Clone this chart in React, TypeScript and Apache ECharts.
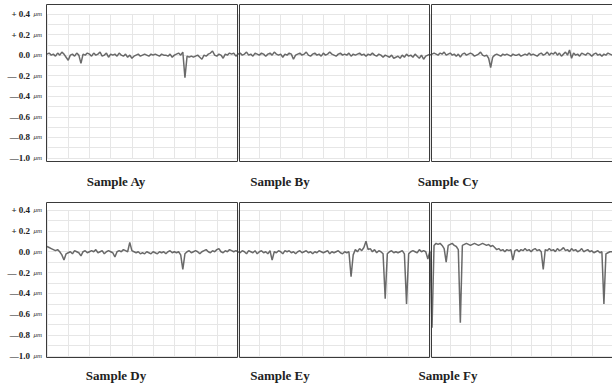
import React, { useEffect, useRef } from "react";
import * as echarts from "echarts";

const sampleNames = ["Sample Ay", "Sample By", "Sample Cy", "Sample Dy", "Sample Ey", "Sample Fy"];
const yTicks = [0.4, 0.2, 0.0, -0.2, -0.4, -0.6, -0.8, -1.0];

const sampleA = [
  0.01, 0.02, 0.00, 0.01, -0.01, 0.02, 0.00, 0.03, 0.01, -0.02,
  -0.05, 0.00, 0.01, -0.01, 0.02, 0.00, -0.08, 0.01, 0.00, 0.02,
  0.01, -0.01, 0.02, 0.00, 0.01, 0.03, -0.01, 0.00, 0.02, -0.02,
  0.01, 0.00, 0.01, -0.01, 0.02, 0.00, -0.01, 0.01, -0.02, 0.00,
  -0.03, -0.01, 0.00, 0.01, -0.01, 0.00, 0.01, 0.00, -0.01, 0.01,
  0.00, 0.01, 0.00, -0.01, 0.01, 0.00, 0.00, -0.01, 0.01, -0.02,
  0.00, 0.01, 0.02, 0.00, 0.03, -0.22, -0.01, -0.02, -0.01, -0.02,
  -0.01, 0.00, -0.02, -0.04, 0.00, -0.01, 0.01, 0.02, 0.04, 0.00,
  -0.01, 0.01, 0.00, -0.03, 0.01, 0.00, 0.02, 0.01, 0.02, -0.01,
  0.01,
];
const sampleB = [
  0.01, 0.02, 0.00, 0.01, 0.03, 0.00, 0.01, -0.01, 0.02, 0.01,
  0.00, 0.02, 0.01, -0.01, 0.01, 0.02, 0.00, 0.03, 0.01, 0.00,
  0.01, -0.02, 0.01, 0.00, 0.02, 0.01, -0.04, 0.00, 0.01, 0.02,
  0.00, 0.01, 0.03, 0.00, -0.01, 0.01, 0.02, 0.00, 0.01, -0.01,
  0.02, 0.00, 0.01, 0.03, 0.01, 0.00, -0.01, 0.01, 0.02, 0.00,
  0.01, 0.00, 0.02, -0.01, 0.01, 0.00, 0.01, 0.02, 0.00, 0.01,
  -0.01, 0.01, 0.00, 0.02, 0.00, -0.01, 0.01, 0.00, -0.02, 0.00,
  -0.01, -0.02, 0.00, -0.03, -0.02, -0.01, -0.03, 0.00, -0.02, 0.01,
  -0.01, 0.00, -0.02, 0.01, -0.01, -0.03, 0.00, -0.04, -0.01, 0.00,
  0.01,
];
const sampleC = [
  0.00, 0.01, 0.02, 0.01, 0.00, 0.02, 0.01, 0.03, 0.00, 0.01,
  0.02, 0.00, 0.01, -0.01, 0.01, -0.02, 0.01, 0.02, 0.00, 0.01,
  0.02, 0.01, -0.01, 0.00, 0.01, 0.03, 0.00, -0.01, 0.00, -0.03,
  -0.12, -0.02, 0.00, 0.01, 0.00, -0.01, 0.01, 0.00, 0.01, 0.00,
  -0.01, 0.01, 0.00, 0.00, 0.01, -0.01, 0.00, 0.01, 0.00, 0.02,
  0.00, 0.01, 0.00, -0.01, 0.01, 0.02, 0.00, 0.01, 0.03, 0.00,
  0.02, 0.01, 0.03, 0.00, 0.02, -0.01, 0.01, 0.03, 0.00, 0.05,
  -0.03, 0.02, 0.00, 0.01, -0.01, 0.02, 0.01, 0.00, 0.02, 0.01,
  -0.01, 0.01, 0.02, 0.00, 0.01, -0.01, 0.01, 0.00, 0.02, 0.01,
  0.00,
];
const sampleD = [
  0.05, 0.04, 0.03, 0.02, 0.01, 0.02, 0.00, -0.03, -0.08, -0.02,
  -0.01, 0.00, -0.02, 0.01, 0.00, -0.01, -0.04, 0.00, 0.01, -0.01,
  0.00, 0.01, 0.00, 0.02, -0.01, 0.00, 0.01, -0.02, 0.00, 0.01,
  0.00, -0.01, -0.05, 0.00, 0.01, 0.00, 0.02, 0.01, 0.00, 0.09,
  0.01, 0.00, -0.01, 0.00, -0.02, -0.01, -0.02, 0.00, -0.01, -0.02,
  0.00, -0.01, -0.02, 0.00, -0.01, 0.00, -0.02, 0.00, 0.01, -0.01,
  0.00, -0.01, 0.00, -0.03, -0.17, -0.02, 0.00, 0.01, -0.01, 0.00,
  0.01, 0.00, -0.02, 0.00, 0.01, 0.02, 0.00, -0.01, 0.01, 0.00,
  0.02, 0.03, 0.00, -0.01, 0.01, 0.00, 0.02, 0.01, 0.00, 0.01,
  0.00,
];
const sampleE = [
  0.00, -0.01, 0.01, 0.00, -0.02, 0.01, 0.00, -0.01, 0.01, -0.02,
  0.00, 0.01, -0.01, 0.00, -0.02, 0.01, -0.08, 0.00, -0.01, 0.01,
  0.00, -0.02, 0.01, 0.00, 0.01, -0.01, 0.00, -0.02, 0.00, 0.01,
  -0.01, 0.00, 0.01, -0.01, 0.00, -0.02, 0.00, -0.01, 0.01, 0.00,
  -0.01, 0.00, 0.01, -0.02, 0.00, -0.01, 0.00, 0.01, -0.01, -0.02,
  0.00, -0.01, 0.00, -0.24, -0.03, 0.02, 0.00, 0.03, 0.01, 0.04,
  0.10, 0.02, 0.03, 0.00, 0.02, -0.01, 0.01, 0.00, -0.02, -0.45,
  -0.02, 0.00, 0.01, -0.01, 0.00, -0.01, 0.00, 0.01, -0.02, -0.50,
  -0.02, 0.00, 0.01, 0.00, -0.01, 0.02, 0.00, 0.01, 0.00, -0.07,
  0.01,
];
const sampleF = [
  0.00, -0.73, 0.06, 0.08, 0.07, 0.08, 0.06, 0.03, -0.10, 0.06,
  0.07, 0.08, 0.06, 0.05, 0.02, -0.68, 0.06, 0.07, 0.08, 0.07,
  0.06, 0.07, 0.08, 0.07, 0.06, 0.07, 0.08, 0.07, 0.06, 0.07,
  0.05, 0.06, 0.04, 0.02, 0.03, 0.01, 0.02, 0.00, 0.02, 0.01,
  0.02, -0.08, 0.01, 0.02, 0.00, 0.02, 0.01, 0.03, 0.01, 0.02,
  0.00, 0.02, 0.03, 0.01, 0.02, 0.00, -0.17, 0.02, 0.01, 0.03,
  0.01, 0.02, 0.00, 0.03, 0.01, 0.02, 0.04, 0.01, 0.02, 0.00,
  0.03, 0.01, 0.02, 0.00, 0.01, 0.03, 0.00, 0.01, 0.02, 0.00,
  0.01, -0.01, 0.00, 0.01, -0.01, 0.00, -0.50, -0.02, -0.01, 0.00,
  0.00,
];

const allSamples = [sampleA, sampleB, sampleC, sampleD, sampleE, sampleF];

// layout (pixels)
const colLeft = [47, 238, 430];
const colWidth = [191, 192, 191];
const boxLeft = [46.5, 239.5, 431.5];
const boxWidth = [191, 190, 200];
const rowTop = [14, 210];
const rowHeight = [144, 146];
const boxTop = [4.5, 202.5];
const boxBottom = [161.5, 357.5];
const labelX = [116, 280, 448];
const labelY = [181, 375];

const FONT = "'Liberation Serif', 'Times New Roman', serif";

function fmtTick(v: number): string {
  const r = Math.round(v * 10) / 10;
  if (Math.abs(Math.round(r * 10)) % 2 !== 0) return "";
  const abs = Math.abs(r).toFixed(1);
  if (r > 0) return "{n|+ " + abs + "} {u|\u03bcm}";
  if (r === 0) return "{n|0.0} {u|\u03bcm}";
  if (Math.abs(r + 0.2) < 1e-6) return "{n|\u2014 " + abs + "} {u|\u03bcm}";
  return "{n|\u2014" + abs + "} {u|\u03bcm}";
}

export default function App() {
  const ref = useRef<HTMLDivElement>(null);
  useEffect(() => {
    if (!ref.current) return;
    const chart = echarts.init(ref.current, null, { renderer: "svg" });
    const grids: any[] = [];
    const xAxes: any[] = [];
    const yAxes: any[] = [];
    const series: any[] = [];
    const graphics: any[] = [];
    allSamples.forEach((arr, k) => {
      const r = Math.floor(k / 3);
      const c = k % 3;
      grids.push({
        left: colLeft[c],
        top: rowTop[r],
        width: colWidth[c],
        height: rowHeight[r],
        show: false,
      });
      xAxes.push({
        type: "value",
        gridIndex: k,
        min: 0,
        max: arr.length - 1,
        interval: 10,
        axisLine: { show: false },
        axisTick: { show: false },
        axisLabel: { show: false },
        splitLine: { show: true, lineStyle: { color: "#e6e6e6", width: 1 } },
      });
      yAxes.push({
        type: "value",
        gridIndex: k,
        min: -1.0,
        max: 0.4,
        interval: 0.1,
        axisLine: { show: false },
        axisTick: { show: false },
        axisLabel: {
          show: c === 0,
          margin: 5,
          formatter: fmtTick,
          rich: {
            n: { fontFamily: FONT, fontWeight: "bold", fontSize: 9, color: "#222" },
            u: { fontFamily: FONT, fontStyle: "italic", fontSize: 7, color: "#333" },
          },
        },
        splitLine: { show: true, lineStyle: { color: "#e6e6e6", width: 1 } },
      });
      series.push({
        type: "line",
        xAxisIndex: k,
        yAxisIndex: k,
        data: arr.map((v, i) => [i, v]),
        showSymbol: false,
        symbol: "none",
        lineStyle: { color: "#505050", width: 1.5, opacity: 0.85 },
        silent: true,
      });
      graphics.push({
        type: "rect",
        shape: {
          x: boxLeft[c],
          y: boxTop[r],
          width: boxWidth[c],
          height: boxBottom[r] - boxTop[r],
        },
        style: { fill: "none", stroke: "#3a3a3a", lineWidth: 1 },
        silent: true,
        z: 10,
      });
      graphics.push({
        type: "text",
        x: labelX[c],
        y: labelY[r],
        style: {
          text: sampleNames[k],
          font: "bold 13px " + FONT,
          fill: "#222",
          textAlign: "center",
          textVerticalAlign: "middle",
        },
      });
    });
    chart.setOption({
      animation: false,
      backgroundColor: "#ffffff",
      grid: grids,
      xAxis: xAxes,
      yAxis: yAxes,
      series,
      graphic: graphics,
    });
    return () => chart.dispose();
  }, []);
  return (
    <div
      ref={ref}
      style={{ position: "absolute", left: 0, top: 0, width: 612, height: 387 }}
    />
  );
}
